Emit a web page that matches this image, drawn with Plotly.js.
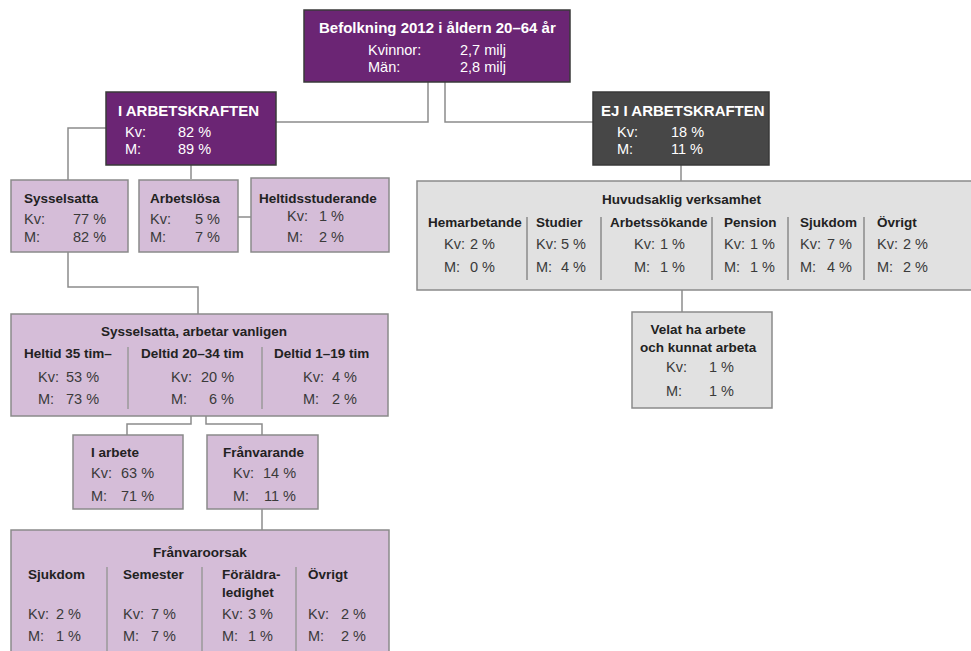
<!DOCTYPE html>
<html><head><meta charset="utf-8">
<script src="https://cdn.plot.ly/plotly-3.0.1.min.js"></script>
<style>html,body{margin:0;padding:0;background:#fff;overflow:hidden}#chart{width:971px;height:651px}</style>
</head><body><div id="chart"></div>
<script>
// ---------- data ----------
const populationTitle = "Befolkning 2012 i åldern 20–64 år";
const populationLabels = ["Kvinnor:", "Män:"];
const populationValues = [2.7, 2.8]; // miljoner
const workforceLabels = ["I ARBETSKRAFTEN", "EJ I ARBETSKRAFTEN"];
const workforceKv = [82, 18];
const workforceM = [89, 11];
const labourLabels = ["Sysselsatta", "Arbetslösa", "Heltidsstuderande"];
const labourKv = [77, 5, 1];
const labourM = [82, 7, 2];
const hoursTitle = "Sysselsatta, arbetar vanligen";
const hoursLabels = ["Heltid 35 tim–", "Deltid 20–34 tim", "Deltid 1–19 tim"];
const hoursKv = [53, 20, 4];
const hoursM = [73, 6, 2];
const presenceLabels = ["I arbete", "Frånvarande"];
const presenceKv = [63, 14];
const presenceM = [71, 11];
const absenceTitle = "Frånvaroorsak";
const absenceLabels = ["Sjukdom", "Semester", "Föräldra-<br>ledighet", "Övrigt"];
const absenceKv = [2, 7, 3, 2];
const absenceM = [1, 7, 1, 2];
const activityTitle = "Huvudsaklig verksamhet";
const activityLabels = ["Hemarbetande", "Studier", "Arbetssökande", "Pension", "Sjukdom", "Övrigt"];
const activityKv = [2, 5, 1, 1, 7, 2];
const activityM = [0, 4, 1, 1, 4, 2];
const wantLabel = "Velat ha arbete<br>och kunnat arbeta";
const wantKv = [1];
const wantM = [1];
const sexLabels = ["Kv:", "M:"];

// ---------- drawing helpers ----------
const FONT = "Liberation Sans, Arial, Helvetica, sans-serif";
const PURPLE = "#6b2574", DARK = "#474747", LPURPLE = "#d5bdd8", LGRAY = "#e1e1e1";
const BORDER = "#8a8a8a", LINE = "#8c8c8c", TXT = "#3a3a3a", HEAD = "#222222";
const REG = 14.5, BOLD = 13.5;
const shapes = [], annotations = [];
const pct = v => v + " %";
const milj = v => v.toFixed(1).replace(".", ",") + " milj";

function box(x0, y0, x1, y1, fill, line) {
  shapes.push({type: "rect", xref: "x", yref: "y", x0, y0, x1, y1, fillcolor: fill,
    line: {color: line, width: 1.5}, layer: "below"});
}
function path(d, color) {
  shapes.push({type: "path", xref: "x", yref: "y", path: d, line: {color: color || LINE, width: 1.5}, layer: "below"});
}
function text(x, y, t, o) {
  o = o || {};
  annotations.push({x, y, xref: "x", yref: "y", text: t, showarrow: false,
    xanchor: o.anchor || "left", yanchor: o.yanchor || "middle", align: o.align || "left",
    borderpad: 0,
    font: {family: FONT, size: o.size || REG, color: o.color || TXT}});
}
const bold = (x, y, t, o) => text(x, y, "<b>" + t + "</b>", Object.assign({size: BOLD, color: HEAD}, o || {}));

// ---------- connectors ----------
path("M428,82 V122 H276");
path("M445,82 V122 H593");
path("M106,128 H68 V180");
path("M191,165 V179");
path("M238,217 H251");
path("M68,252 V287 H198 V314");
path("M191,416 V424 H127 V435");
path("M206,416 V424 H262 V435");
path("M262,509 V530");
path("M681,165 V181");
path("M682,290 V312");

// ---------- top box ----------
box(304, 10, 570, 82, PURPLE, "#3a3a3a");
bold(437, 27, populationTitle, {anchor: "center", color: "#ffffff", size: 15});
populationLabels.forEach((l, i) => {
  text(367, 50 + i * 17, l, {color: "#ffffff"});
  text(459, 50 + i * 17, milj(populationValues[i]), {color: "#ffffff"});
});

// ---------- workforce ----------
const wfPos = [
  {x0: 106, x1: 276, fill: PURPLE, tx: 117, lx: 124, vx: 177},
  {x0: 593, x1: 769, fill: DARK, tx: 600, lx: 616, vx: 670}
];
workforceLabels.forEach((l, i) => {
  const p = wfPos[i];
  box(p.x0, 92, p.x1, 165, p.fill, "#3a3a3a");
  bold(p.tx, 110, l, {color: "#ffffff", size: 15});
  text(p.lx, 132, sexLabels[0], {color: "#ffffff"});
  text(p.vx, 132, pct(workforceKv[i]), {color: "#ffffff"});
  text(p.lx, 149, sexLabels[1], {color: "#ffffff"});
  text(p.vx, 149, pct(workforceM[i]), {color: "#ffffff"});
});

// ---------- labour ----------
const lbPos = [
  {x0: 11, x1: 128, y0: 180, tx: 23, ta: "left", lx: 23, vx: 107, ky: 219},
  {x0: 139, x1: 238, y0: 180, tx: 149, ta: "left", lx: 149, vx: 221, ky: 219},
  {x0: 251, x1: 389, y0: 178, tx: 318, ta: "center", lx: 286, vx: 345, ky: 216}
];
labourLabels.forEach((l, i) => {
  const p = lbPos[i];
  box(p.x0, p.y0, p.x1, 252, LPURPLE, BORDER);
  bold(p.tx, 198, l, {anchor: p.ta});
  text(p.lx, p.ky, sexLabels[0]);
  text(p.vx, p.ky, pct(labourKv[i]), {anchor: "right"});
  text(p.lx, 237, sexLabels[1]);
  text(p.vx, 237, pct(labourM[i]), {anchor: "right"});
});

// ---------- hours ----------
box(11, 314, 388, 416, LPURPLE, BORDER);
bold(194, 331, hoursTitle, {anchor: "center"});
[128, 262].forEach(x => path("M" + x + ",347 V409", "#9a9a9a"));
const hrHead = [23, 140, 273], hrLab = [37, 170, 302], hrVal = [100, 235, 358];
hoursLabels.forEach((l, i) => {
  bold(hrHead[i], 353, l);
  text(hrLab[i], 377, sexLabels[0]);
  text(hrVal[i], 377, pct(hoursKv[i]), {anchor: "right"});
  text(hrLab[i], 399, sexLabels[1]);
  text(hrVal[i], 399, pct(hoursM[i]), {anchor: "right"});
});

// ---------- presence ----------
const prPos = [
  {x0: 73, x1: 183, tx: 90, ta: "left", lx: 90, vx: 155},
  {x0: 207, x1: 318, tx: 264, ta: "center", lx: 232, vx: 297}
];
presenceLabels.forEach((l, i) => {
  const p = prPos[i];
  box(p.x0, 435, p.x1, 509, LPURPLE, BORDER);
  bold(p.tx, 452, l, {anchor: p.ta});
  text(p.lx, 473, sexLabels[0]);
  text(p.vx, 473, pct(presenceKv[i]), {anchor: "right"});
  text(p.lx, 496, sexLabels[1]);
  text(p.vx, 496, pct(presenceM[i]), {anchor: "right"});
});

// ---------- absence ----------
box(11, 530, 389, 670, LPURPLE, BORDER);
bold(200, 552, absenceTitle, {anchor: "center"});
[107, 202, 296].forEach(x => path("M" + x + ",567 V660", "#9a9a9a"));
const abLab = [27, 122, 221, 307], abVal = [82, 177, 274, 367];
absenceLabels.forEach((l, i) => {
  bold(abLab[i], 566, l, {yanchor: "top"});
  text(abLab[i], 614, sexLabels[0]);
  text(abVal[i], 614, pct(absenceKv[i]), {anchor: "right"});
  text(abLab[i], 636, sexLabels[1]);
  text(abVal[i], 636, pct(absenceM[i]), {anchor: "right"});
});

// ---------- main activity ----------
box(417, 181, 975, 290, LGRAY, BORDER);
bold(682, 199, activityTitle, {anchor: "center"});
[527, 601, 712, 788, 864].forEach(x => path("M" + x + ",217 V280", "#8a8a8a"));
const acHead = [427, 535, 609, 723, 799, 876];
const acLab = [443, 535, 633, 723, 799, 876];
const acVal = [496, 587, 686, 776, 853, 929];
activityLabels.forEach((l, i) => {
  bold(acHead[i], 222, l);
  text(acLab[i], 244, sexLabels[0]);
  text(acVal[i], 244, pct(activityKv[i]), {anchor: "right"});
  text(acLab[i], 267, sexLabels[1]);
  text(acVal[i], 267, pct(activityM[i]), {anchor: "right"});
});

// ---------- want to work ----------
box(632, 312, 772, 408, LGRAY, BORDER);
bold(698, 338, wantLabel, {anchor: "center", align: "center"});
text(665, 367, sexLabels[0]);
text(735, 367, pct(wantKv[0]), {anchor: "right"});
text(665, 391, sexLabels[1]);
text(735, 391, pct(wantM[0]), {anchor: "right"});

const layout = {
  width: 971, height: 651,
  margin: {l: 0, r: 0, t: 0, b: 0},
  paper_bgcolor: "#ffffff", plot_bgcolor: "#ffffff",
  xaxis: {range: [0, 971], visible: false, fixedrange: true},
  yaxis: {range: [651, 0], visible: false, fixedrange: true},
  showlegend: false,
  shapes, annotations
};
Plotly.newPlot("chart", [{type: "scatter", x: [], y: [], hoverinfo: "skip"}], layout, {staticPlot: true, displayModeBar: false});
</script>
</body></html>
